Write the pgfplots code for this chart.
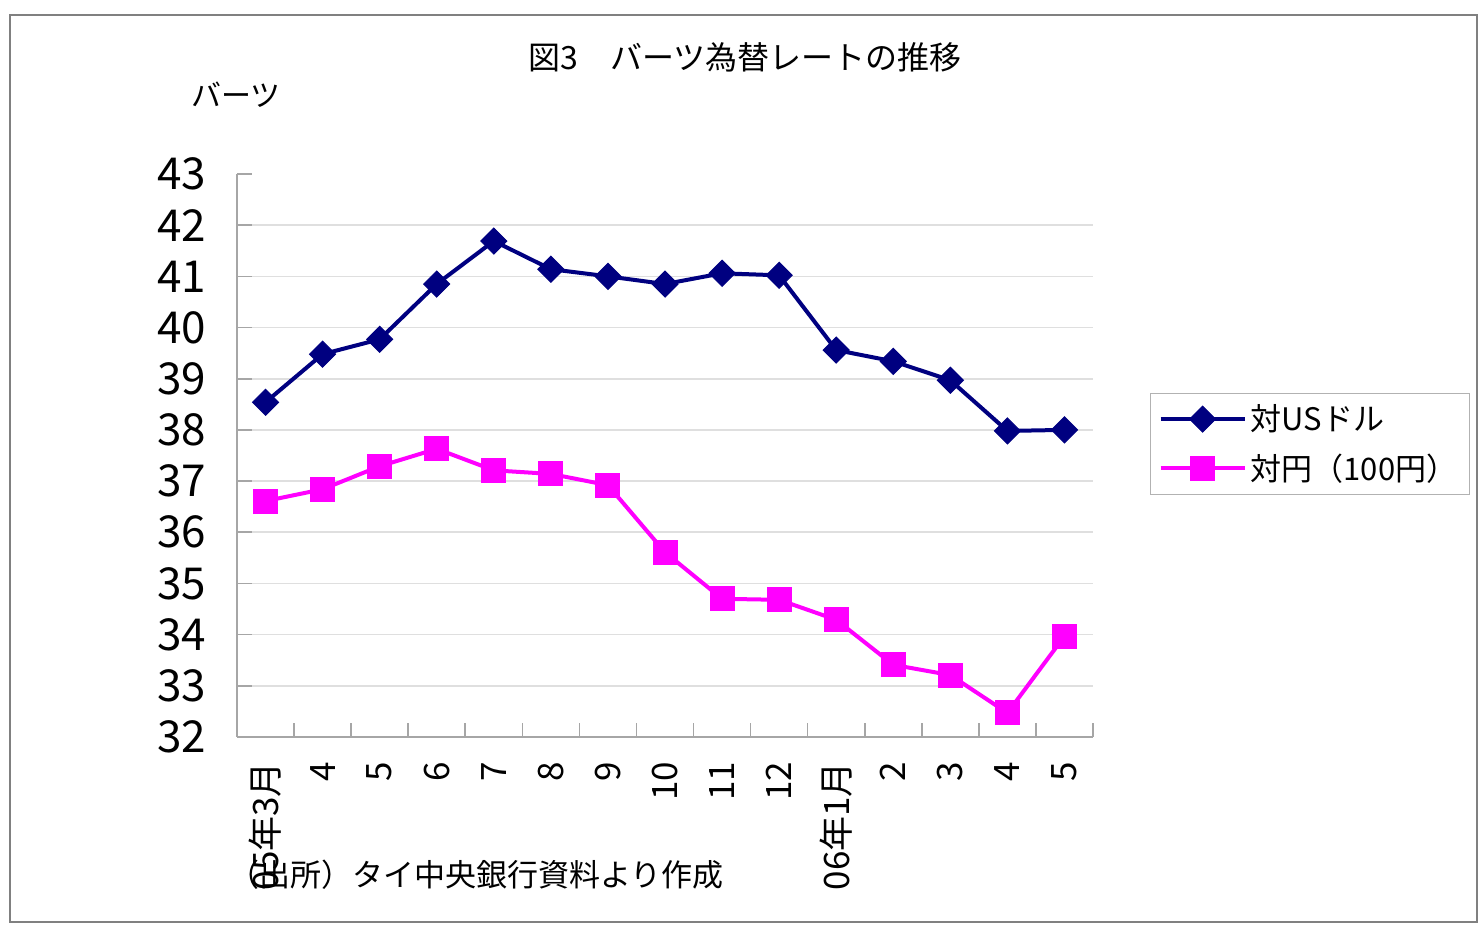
\documentclass[border=0pt]{standalone}
\usepackage{fontspec}
\setmainfont{Noto Sans CJK JP}
\usepackage{graphicx}
\usepackage{pgfplots}
\pgfplotsset{compat=1.18}

\definecolor{usd}{HTML}{000080}
\definecolor{jpy}{HTML}{FF00FF}

\begin{document}
\begin{tikzpicture}
% page: 1px = 0.5pt
\path[use as bounding box] (0,0) rectangle (742pt,468.5pt);
\draw[gray, line width=0.8pt] (5pt,7.5pt) rectangle (738.5pt,461pt);

\begin{axis}[
  at={(118.5pt,100pt)}, anchor=south west,
  scale only axis,
  width=428pt, height=281.5pt,
  xmin=-0.5, xmax=14.5,
  ymin=32, ymax=43,
  axis lines*=left,
  axis line style={gray!70, line width=0.8pt},
  tick align=inside,
  clip=false,
  xtick={0,...,14},
  xticklabels={05年3月,4,5,6,7,8,9,10,11,12,06年1月,2,3,4,5},
  major x tick style={draw=none},
  minor xtick={-0.5,0.5,...,14.5},
  minor tick length=7pt,
  minor x tick style={gray!70, line width=0.8pt},
  xticklabel style={rotate=90, anchor=east, font=\fontsize{17.5pt}{17.5pt}\selectfont},
  xticklabel shift=9pt,
  ytick={32,...,42},
  extra y ticks={43},
  extra y tick labels={43},
  extra y tick style={grid=none},
  yticklabel={\pgfmathprintnumber[assume math mode=true]{\tick}},
  yticklabel style={anchor=east, font=\fontsize{22pt}{22pt}\selectfont},
  yticklabel shift=12pt,
  major tick length=7.5pt,
  y tick style={gray!70, line width=0.8pt},
  ymajorgrids,
  major y grid style={gray!25, line width=0.8pt},
  legend style={
    at={(1.0666,0.611)}, anchor=north west,
    draw=gray!60, line width=0.6pt,
    font=\fontsize{15.5pt}{15.5pt}\selectfont,
    inner xsep=4pt, inner ysep=3.5pt,
    row sep=6pt,
    legend cell align=left,
  },
  legend image code/.code={
    \draw[mark repeat=2, mark phase=2] plot coordinates {(0pt,0pt) (21pt,0pt) (42pt,0pt)};
  },
]

\addplot[usd, line width=2pt, mark=square*, mark size=4.6pt,
  mark options={rotate=45, solid, line width=0.5pt}]
  coordinates {(0,38.54) (1,39.48) (2,39.77) (3,40.85) (4,41.69)
               (5,41.14) (6,41.00) (7,40.85) (8,41.06) (9,41.02)
               (10,39.56) (11,39.34) (12,38.97) (13,37.98) (14,38.00)};

\addplot[jpy, line width=2pt, mark=square*, mark size=6pt,
  mark options={solid, line width=0.5pt}]
  coordinates {(0,36.61) (1,36.84) (2,37.29) (3,37.63) (4,37.21)
               (5,37.14) (6,36.92) (7,35.61) (8,34.70) (9,34.68)
               (10,34.29) (11,33.41) (12,33.21) (13,32.47) (14,33.97)};

\legend{対USドル, 対円（100円）}
\end{axis}

\node[font=\fontsize{16pt}{16pt}\selectfont] at (372.5pt,440pt) {図3　バーツ為替レートの推移};
\node[font=\fontsize{15pt}{15pt}\selectfont] at (118pt,421pt) {バーツ};
\node[font=\fontsize{15.5pt}{15.5pt}\selectfont, anchor=west, inner sep=0pt] at (114pt,31pt) {（出所）タイ中央銀行資料より作成};
\end{tikzpicture}
\end{document}
